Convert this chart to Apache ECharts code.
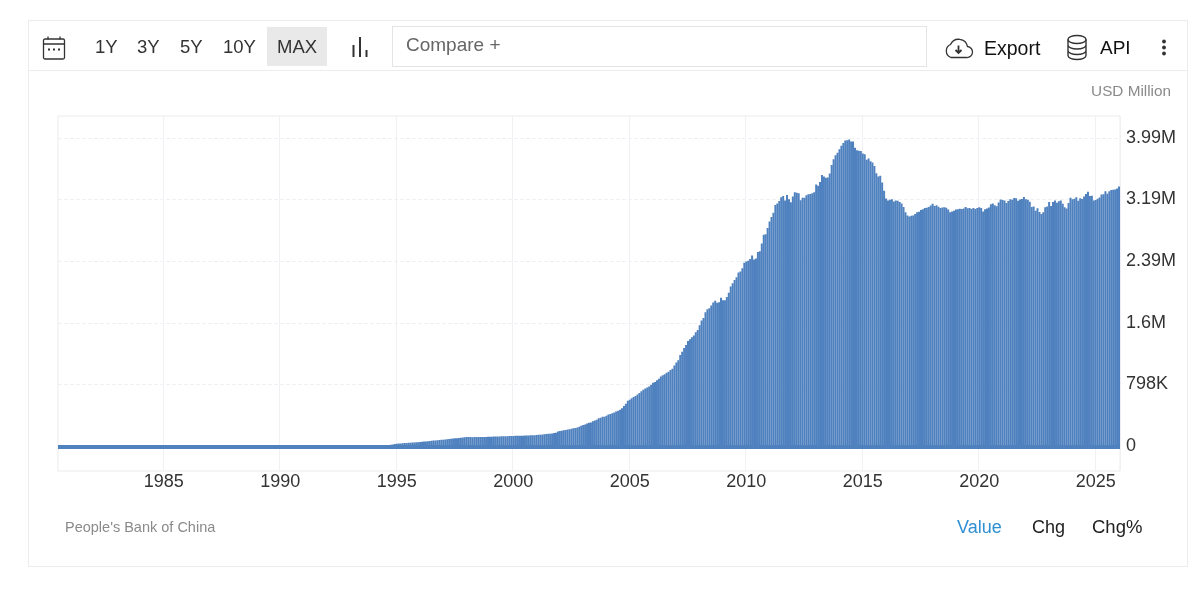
<!DOCTYPE html>
<html>
<head>
<meta charset="utf-8">
<title>Foreign Exchange Reserves</title>
<script src="https://cdn.jsdelivr.net/npm/echarts@6/dist/echarts.min.js"></script>
<style>
  html, body { margin: 0; padding: 0; background: #fff; }
  body { width: 1200px; height: 601px; position: relative; overflow: hidden; font-family: "Liberation Sans", Arial, sans-serif; }
  #chart { position: absolute; left: 0; top: 0; width: 1200px; height: 601px; }
  .card { position: absolute; left: 28px; top: 20px; width: 1160px; height: 547px; border: 1px solid #ececec; box-sizing: border-box; }
  .rule { position: absolute; left: 28px; top: 70px; width: 1160px; height: 1px; background: #ececec; }
  .t { position: absolute; white-space: nowrap; line-height: 20px; font-size: 18px; color: #333; }
  .max { position: absolute; left: 267px; top: 27px; width: 60px; height: 39px; background: #e9e9e9; }
  .compare { position: absolute; left: 392px; top: 26px; width: 535px; height: 41px; border: 1px solid #e4e4e4; box-sizing: border-box; }
  svg { position: absolute; fill: none; stroke: #333; }
</style>
</head>
<body>
<div id="chart"></div>
<div class="card"></div>
<div class="rule"></div>
<div class="max"></div>
<div class="compare"></div>

<svg style="left:42px;top:35px" width="24" height="26" stroke-width="1.3">
  <rect x="1.5" y="4" width="21" height="20" rx="1.5"/>
  <path d="M1.5 9h21M6 1.5v3M18 1.5v3"/>
  <path d="M6 14.5h2M11 14.5h2M16 14.5h2" stroke-width="2"/>
</svg>
<div class="t" style="left:95px;top:37px;font-size:18.5px">1Y</div>
<div class="t" style="left:137px;top:37px;font-size:18.5px">3Y</div>
<div class="t" style="left:180px;top:37px;font-size:18.5px">5Y</div>
<div class="t" style="left:223px;top:37px;font-size:18.5px">10Y</div>
<div class="t" style="left:277px;top:37px;font-size:18.5px">MAX</div>
<svg style="left:351px;top:36px" width="18" height="22" stroke-width="2">
  <path d="M2.5 9v12M9 1v20M15.5 14v7"/>
</svg>
<div class="t" style="left:406px;top:35px;color:#666;font-size:19px">Compare +</div>

<svg style="left:943px;top:36px" width="31" height="24" stroke-width="1.3">
  <path d="M8 21.5h15.5a5.5 5.5 0 0 0 1-11a9 9 0 0 0-17-2a7 7 0 0 0 .5 13z"/>
  <path d="M15.5 9.5v7M12.500 14l3 3 3-3" stroke-width="1.8"/>
</svg>
<div class="t" style="left:984px;top:38px;color:#111;font-size:19.5px">Export</div>
<svg style="left:1066px;top:34px" width="22" height="27" stroke-width="1.4">
  <ellipse cx="11" cy="5.5" rx="9" ry="4"/>
  <path d="M2 5.5v16c0 2.2 4 4 9 4s9-1.800 9-4v-16M2 11c0 2.200 4 4 9 4s9-1.800 9-4M2 16.500c0 2.200 4 4 9 4s9-1.800 9-4"/>
</svg>
<div class="t" style="left:1100px;top:38px;color:#111;font-size:19px">API</div>
<svg style="left:1160px;top:39px;stroke:none;fill:#333" width="8" height="18">
  <circle cx="4" cy="2.500" r="1.900"/><circle cx="4" cy="8.500" r="1.900"/><circle cx="4" cy="14.500" r="1.900"/>
</svg>

<div class="t" style="right:29px;top:81px;font-size:15.3px;color:#8a8a8a">USD Million</div>
<div class="t" style="left:65px;top:517px;font-size:14.5px;color:#8a8a8a">People's Bank of China</div>
<div class="t" style="left:957px;top:517px;color:#2e8fd3">Value</div>
<div class="t" style="left:1032px;top:517px;color:#222">Chg</div>
<div class="t" style="left:1092px;top:517px;color:#222;font-size:18.5px">Chg%</div>

<script>
// monthly reserves, USD billion
const y1980 = [2, 2, 2, 2, 2, 2]; // from July
const y1981 = [2, 2, 3, 3, 3, 3, 3, 3, 4, 4, 4, 5];
const y1982 = [5, 5, 6, 6, 7, 7, 8, 8, 9, 9, 10, 11];
const y1983 = [11, 11, 12, 12, 12, 12, 13, 13, 13, 14, 14, 14];
const y1984 = [14, 14, 14, 14, 14, 13, 13, 13, 12, 12, 11, 11];
const y1985 = [10, 9, 8, 7, 6, 5, 4, 4, 3, 3, 3, 3];
const y1986 = [2, 2, 2, 2, 2, 2, 2, 2, 2, 2, 2, 2];
const y1987 = [2, 2, 2, 2, 2, 3, 3, 3, 3, 3, 3, 3];
const y1988 = [3, 3, 3, 3, 3, 3, 3, 3, 3, 3, 3, 3];
const y1989 = [4, 4, 4, 4, 4, 5, 5, 5, 5, 5, 6, 6];
const y1990 = [6, 6, 7, 7, 8, 8, 9, 9, 10, 10, 11, 11];
const y1991 = [12, 13, 14, 15, 16, 16, 17, 18, 19, 20, 21, 22];
const y1992 = [22, 23, 23, 24, 24, 25, 21, 20, 19, 19, 19, 19];
const y1993 = [20, 20, 20, 20, 20, 20, 19, 19, 20, 20, 20, 21];
const y1994 = [23, 24, 25, 27, 29, 31, 33, 35, 37, 41, 46, 52];
const y1995 = [55, 57, 59, 61, 63, 65, 66, 68, 70, 72, 73, 74];
const y1996 = [76, 79, 82, 85, 87, 90, 93, 95, 98, 100, 103, 105];
const y1997 = [107, 109, 112, 115, 118, 121, 124, 127, 129, 131, 134, 140];
const y1998 = [141, 142, 143, 140, 141, 141, 141, 141, 141, 142, 143, 145];
const y1999 = [146, 146, 147, 147, 148, 149, 150, 151, 152, 153, 154, 155];
const y2000 = [156, 157, 157, 158, 158, 159, 160, 161, 162, 163, 164, 166];
const y2001 = [168, 170, 172, 175, 177, 180, 183, 185, 188, 192, 197, 212];
const y2002 = [219, 223, 228, 233, 238, 243, 250, 255, 258, 264, 274, 286];
const y2003 = [298, 305, 316, 326, 331, 346, 356, 365, 384, 392, 404, 403];
const y2004 = [416, 432, 440, 449, 459, 471, 483, 495, 515, 543, 572, 610];
const y2005 = [623, 643, 659, 671, 691, 711, 733, 753, 769, 781, 794, 819];
const y2006 = [845, 854, 875, 895, 925, 941, 954, 972, 988, 1010, 1024, 1066];
const y2007 = [1105, 1135, 1202, 1246, 1293, 1333, 1385, 1408, 1434, 1455, 1497, 1528];
const y2008 = [1590, 1650, 1682, 1757, 1797, 1809, 1845, 1884, 1906, 1880, 1885, 1946];
const y2009 = [1913, 1912, 1954, 2009, 2089, 2132, 2175, 2211, 2273, 2283, 2326, 2399];
const y2010 = [2415, 2425, 2447, 2490, 2440, 2454, 2538, 2548, 2648, 2760, 2768, 2847];
const y2011 = [2932, 2991, 3045, 3146, 3166, 3197, 3245, 3262, 3202, 3274, 3221, 3181];
const y2012 = [3254, 3310, 3305, 3299, 3206, 3240, 3240, 3273, 3285, 3287, 3298, 3312];
const y2013 = [3410, 3395, 3443, 3535, 3515, 3497, 3500, 3553, 3663, 3737, 3790, 3821];
const y2014 = [3866, 3914, 3948, 3979, 3984, 3993, 3966, 3969, 3888, 3853, 3847, 3843];
const y2015 = [3813, 3802, 3730, 3748, 3711, 3694, 3651, 3557, 3514, 3525, 3438, 3330];
const y2016 = [3230, 3202, 3212, 3220, 3191, 3205, 3201, 3185, 3166, 3120, 3051, 3010];
const y2017 = [2998, 3005, 3009, 3029, 3053, 3057, 3080, 3091, 3108, 3109, 3119, 3139];
const y2018 = [3161, 3134, 3142, 3124, 3106, 3112, 3117, 3109, 3087, 3053, 3061, 3072];
const y2019 = [3087, 3090, 3098, 3094, 3101, 3119, 3103, 3107, 3092, 3105, 3095, 3107];
const y2020 = [3115, 3106, 3060, 3091, 3101, 3112, 3154, 3165, 3142, 3128, 3178, 3216];
const y2021 = [3210, 3204, 3170, 3198, 3221, 3214, 3235, 3232, 3200, 3217, 3222, 3250];
const y2022 = [3221, 3213, 3188, 3119, 3127, 3071, 3104, 3054, 3029, 3052, 3117, 3127];
const y2023 = [3184, 3133, 3183, 3204, 3176, 3193, 3204, 3160, 3115, 3101, 3171, 3238];
const y2024 = [3219, 3225, 3245, 3200, 3232, 3222, 3256, 3288, 3316, 3261, 3266, 3202];
const y2025 = [3209, 3227, 3241, 3282, 3285, 3322, 3292, 3322, 3339, 3343, 3346, 3358];
const y2026 = [3385]; // January only

const yTickValues = [0, 798, 1595, 2393, 3191, 3989];
const yTickLabels = ["0", "798K", "1.6M", "2.39M", "3.19M", "3.99M"];

const reserves = [].concat(
  y1980, y1981, y1982, y1983, y1984, y1985, y1986, y1987, y1988, y1989,
  y1990, y1991, y1992, y1993, y1994, y1995, y1996, y1997, y1998, y1999,
  y2000, y2001, y2002, y2003, y2004, y2005, y2006, y2007, y2008, y2009,
  y2010, y2011, y2012, y2013, y2014, y2015, y2016, y2017, y2018, y2019,
  y2020, y2021, y2022, y2023, y2024, y2025, y2026
);

// category per month, starting July 1980
const months = reserves.map((v, i) => {
  const n = 6 + i;
  return { year: 1980 + Math.floor(n / 12), month: n % 12 };
});
const categories = months.map((m) => m.year + "-" + (m.month + 1));
const isFiveYear = (i) => months[i].month === 0 && months[i].year % 5 === 0;

const barColor = "#4f81bf";
const gridColor = "#f0f1f4";

const myChart = echarts.init(document.getElementById("chart"));
myChart.setOption({
  animation: false,
  grid: {
    left: 58, right: 80, top: 116, height: 355,
    show: true, borderColor: "#ebebeb", borderWidth: 1,
  },
  xAxis: {
    type: "category",
    data: categories,
    axisLine: { show: false },
    axisTick: { show: false, interval: isFiveYear, alignWithLabel: true },
    axisLabel: {
      interval: isFiveYear,
      formatter: (v) => v.split("-")[0],
      color: "#333",
      fontSize: 18,
      margin: 1,
      lineHeight: 20,
      fontFamily: "Liberation Sans",
    },
    splitLine: { show: true, interval: isFiveYear, lineStyle: { color: gridColor, width: 1 } },
  },
  yAxis: [
    {
      type: "value",
      position: "right",
      min: -324,
      max: 4272,
      axisLine: { show: false },
      axisTick: { show: false, customValues: yTickValues },
      axisLabel: {
        customValues: yTickValues,
        formatter: (v) => yTickLabels[yTickValues.indexOf(v)],
        color: "#333",
        fontSize: 18,
        margin: 6,
        padding: [0, 0, 2, 0],
        fontFamily: "Liberation Sans",
      },
      splitLine: { show: true, lineStyle: { color: gridColor, width: 1, type: "dashed" } },
    },
    // bars sit a little under the gridlines in the original
    { type: "value", show: false, min: -311, max: 4285, splitLine: { show: false } },
  ],
  series: [
    {
      type: "bar",
      yAxisIndex: 1,
      data: reserves,
      barWidth: "100%",
      itemStyle: { color: barColor, borderColor: barColor, borderWidth: 2 },
      silent: true,
      markLine: {
        silent: true,
        symbol: "none",
        label: { show: false },
        lineStyle: { color: barColor, width: 3.8, type: "solid" },
        data: [{ yAxis: 8 }],
      },
    },
  ],
});
window.addEventListener("resize", function () {
  myChart.resize();
});
</script>
</body>
</html>
